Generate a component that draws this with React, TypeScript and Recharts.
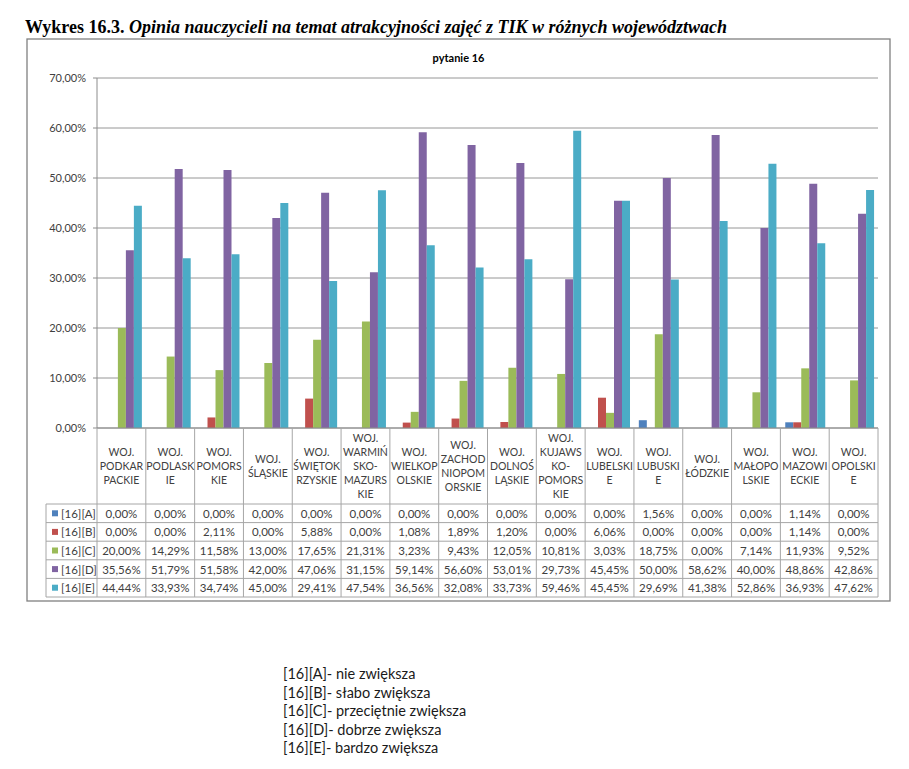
import { BarChart, Bar, XAxis, YAxis, CartesianGrid } from 'recharts'

const categories = [
  'WOJ.\nPODKAR\nPACKIE',
  'WOJ.\nPODLASK\nIE',
  'WOJ.\nPOMORS\nKIE',
  'WOJ.\nŚLĄSKIE',
  'WOJ.\nŚWIĘTOK\nRZYSKIE',
  'WOJ.\nWARMIŃ\nSKO-\nMAZURS\nKIE',
  'WOJ.\nWIELKOP\nOLSKIE',
  'WOJ.\nZACHOD\nNIOPOM\nORSKIE',
  'WOJ.\nDOLNOŚ\nLĄSKIE',
  'WOJ.\nKUJAWS\nKO-\nPOMORS\nKIE',
  'WOJ.\nLUBELSKI\nE',
  'WOJ.\nLUBUSKI\nE',
  'WOJ.\nŁÓDZKIE',
  'WOJ.\nMAŁOPO\nLSKIE',
  'WOJ.\nMAZOWI\nECKIE',
  'WOJ.\nOPOLSKI\nE',
]

const seriesKeys = ['A', 'B', 'C', 'D', 'E']
const seriesNames = ['[16][A]', '[16][B]', '[16][C]', '[16][D]', '[16][E]']
const seriesColors = ['#4f81bd', '#c0504d', '#9bbb59', '#8064a2', '#4bacc6']

const valuesA = [0, 0, 0, 0, 0, 0, 0, 0, 0, 0, 0, 1.56, 0, 0, 1.14, 0]
const valuesB = [0, 0, 2.11, 0, 5.88, 0, 1.08, 1.89, 1.2, 0, 6.06, 0, 0, 0, 1.14, 0]
const valuesC = [20.0, 14.29, 11.58, 13.0, 17.65, 21.31, 3.23, 9.43, 12.05, 10.81, 3.03, 18.75, 0, 7.14, 11.93, 9.52]
const valuesD = [35.56, 51.79, 51.58, 42.0, 47.06, 31.15, 59.14, 56.6, 53.01, 29.73, 45.45, 50.0, 58.62, 40.0, 48.86, 42.86]
const valuesE = [44.44, 33.93, 34.74, 45.0, 29.41, 47.54, 36.56, 32.08, 33.73, 59.46, 45.45, 29.69, 41.38, 52.86, 36.93, 47.62]
const seriesValues = [valuesA, valuesB, valuesC, valuesD, valuesE]

const yTicks = [0, 10, 20, 30, 40, 50, 60, 70]

const pageTitleBold = 'Wykres 16.3.'
const pageTitleItalic = ' Opinia nauczycieli na temat atrakcyjności zajęć z TIK w różnych województwach'
const chartTitle = 'pytanie 16'
const legendLines = [
  '[16][A]- nie zwiększa',
  '[16][B]- słabo zwiększa',
  '[16][C]- przeciętnie zwiększa',
  '[16][D]- dobrze zwiększa',
  '[16][E]- bardzo zwiększa',
]

const data = categories.map((name, i) => {
  const row: Record<string, string | number> = { name }
  seriesKeys.forEach((k, s) => (row[k] = seriesValues[s][i]))
  return row
})

// layout
const W = 909
const H = 769
const CHART_H = 620
const PLOT_LEFT = 97
const PLOT_RIGHT = 878
const PLOT_TOP = 78
const PLOT_BOTTOM = 428
const BAND = (PLOT_RIGHT - PLOT_LEFT) / categories.length
const TABLE_LEFT = 46
const ROW_TOP = 504
const ROW_H = 18.6
const FONT = 'Lato, "Open Sans", sans-serif'
const LINE_COLOR = '#a6a6a6'
const TEXT_COLOR = '#404040'

const fmt = (v: number) => v.toFixed(2).replace('.', ',') + '%'

function TableTick(props: any) {
  const { x, payload } = props
  const index: number = props.index ?? payload.index
  const left = x - BAND / 2
  const right = x + BAND / 2
  const lines: string[] = String(payload.value).split('\n')
  const lh = 13.8
  const mid = (PLOT_BOTTOM + ROW_TOP) / 2
  const bottom = ROW_TOP + ROW_H * seriesKeys.length
  return (
    <g>
      {index === 0 && (
        <g>
          <line x1={left} x2={left} y1={PLOT_BOTTOM} y2={bottom} stroke={LINE_COLOR} />
          <line x1={TABLE_LEFT} x2={TABLE_LEFT} y1={ROW_TOP} y2={bottom} stroke={LINE_COLOR} />
          {[0, 1, 2, 3, 4, 5].map((r) => (
            <line
              key={r}
              x1={TABLE_LEFT}
              x2={PLOT_RIGHT}
              y1={ROW_TOP + r * ROW_H}
              y2={ROW_TOP + r * ROW_H}
              stroke={LINE_COLOR}
            />
          ))}
          {seriesNames.map((n, s) => (
            <g key={n}>
              <rect x={52} y={ROW_TOP + s * ROW_H + ROW_H / 2 - 3} width={6} height={6} fill={seriesColors[s]} />
              <text
                x={61}
                y={ROW_TOP + s * ROW_H + ROW_H / 2}
                dominantBaseline="central"
                fontSize={11.5}
                fontFamily={FONT}
                fill={TEXT_COLOR}
              >
                {n}
              </text>
            </g>
          ))}
        </g>
      )}
      <line x1={right} x2={right} y1={PLOT_BOTTOM} y2={bottom} stroke={LINE_COLOR} />
      {lines.map((ln, k) => (
        <text
          key={k}
          x={x}
          y={mid + (k - (lines.length - 1) / 2) * lh}
          textAnchor="middle"
          dominantBaseline="central"
          fontSize={10.5}
          fontFamily={FONT}
          fill={TEXT_COLOR}
        >
          {ln}
        </text>
      ))}
      {seriesValues.map((vals, s) => (
        <text
          key={s}
          x={x}
          y={ROW_TOP + s * ROW_H + ROW_H / 2}
          textAnchor="middle"
          dominantBaseline="central"
          fontSize={11.5}
          fontFamily={FONT}
          fill={TEXT_COLOR}
        >
          {fmt(vals[index])}
        </text>
      ))}
    </g>
  )
}

export default function App() {
  return (
    <div style={{ position: 'absolute', left: 0, top: 0, width: W, height: H, background: '#fff' }}>
      <svg width={W} height={H} style={{ position: 'absolute', left: 0, top: 0 }}>
        <text x={25} y={33} fontFamily='"Liberation Serif", serif' fontSize={18} fontWeight="bold" fill="#000">
          {pageTitleBold}
          <tspan fontStyle="italic">{pageTitleItalic}</tspan>
        </text>
        <rect x={27} y={39} width={863} height={562} fill="none" stroke="#808080" strokeWidth={1.3} />
        <text
          x={458.5}
          y={57}
          textAnchor="middle"
          dominantBaseline="central"
          fontFamily={FONT}
          fontSize={11}
          fontWeight="bold"
          fill="#000"
        >
          {chartTitle}
        </text>
        {legendLines.map((t, i) => (
          <text key={t} x={283} y={679 + i * 18.5} fontFamily={FONT} fontSize={14.5} fill="#1a1a1a">
            {t}
          </text>
        ))}
      </svg>
      <div style={{ position: 'absolute', left: 0, top: 0 }}>
        <BarChart
          width={W}
          height={CHART_H}
          data={data}
          margin={{ top: PLOT_TOP, right: W - PLOT_RIGHT, bottom: 0, left: 0 }}
          barCategoryGap="10%"
          barGap={0}
        >
          <CartesianGrid horizontal vertical={false} stroke="#969696" />
          <YAxis
            width={PLOT_LEFT}
            domain={[0, 70]}
            ticks={yTicks}
            interval={0}
            tickFormatter={fmt}
            axisLine={{ stroke: '#8c8c8c' }}
            tickLine={{ stroke: '#8c8c8c' }}
            tickSize={4}
            tickMargin={7}
            tick={{ fontSize: 11, fontFamily: FONT, fill: TEXT_COLOR }}
          />
          <XAxis
            dataKey="name"
            height={CHART_H - PLOT_BOTTOM}
            interval={0}
            axisLine={{ stroke: '#8c8c8c' }}
            tickLine={false}
            tick={<TableTick />}
          />
          {seriesKeys.map((k, s) => (
            <Bar key={k} dataKey={k} name={seriesNames[s]} fill={seriesColors[s]} isAnimationActive={false} />
          ))}
        </BarChart>
      </div>
    </div>
  )
}
